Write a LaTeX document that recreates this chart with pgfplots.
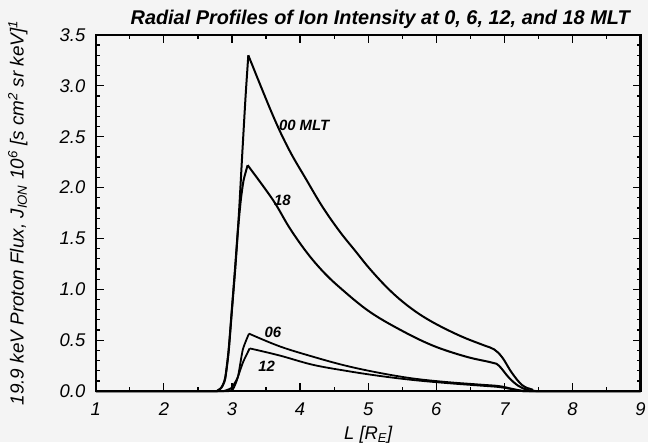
\documentclass[border=0pt]{standalone}
\usepackage{fontspec}
\setmainfont{Liberation Sans}
\usepackage{pgfplots}
\pgfplotsset{compat=1.18}
\definecolor{bg}{HTML}{F4F4F4}
\begin{document}
\begin{tikzpicture}
\fill[bg] (-96bp,-51bp) rectangle (553bp,392bp);
\begin{axis}[
  at={(0,0)}, anchor=south west,
  scale only axis, width=546bp, height=357bp,
  xmin=1, xmax=9, ymin=0, ymax=3.5,
  xtick={1,2,...,9}, ytick={0,0.5,...,3.5},
  minor x tick num=1, minor y tick num=4,
  tick align=inside, tick pos=both,
  major tick length=8bp, minor tick length=4bp,
  every tick/.style={black, line width=1.2bp},
  axis line style={line width=2.2bp},
  /pgf/number format/assume math mode=true,
  ticklabel style={font=\fontsize{18.5}{21}\selectfont\itshape},
  xticklabel style={yshift=-8bp},
  yticklabel style={xshift=-7bp},
  yticklabel={\pgfmathprintnumber[fixed,fixed zerofill,precision=1]{\tick}},
  xticklabel={\pgfmathprintnumber{\tick}},
  every axis title/.style={at={(axis description cs:0.5,1)}, anchor=south, xshift=12bp, yshift=3bp},
  title style={font=\fontsize{20}{23}\selectfont\bfseries\itshape},
  title={Radial Profiles of Ion Intensity at 0, 6, 12, and 18 MLT},
  every axis y label/.style={at={(axis description cs:-0.143,0.5)}, rotate=90, anchor=center, font=\fontsize{19}{22}\selectfont\itshape},
  ylabel={19.9 keV Proton Flux, J\textsubscript{ION} 10\textsuperscript{6} [s cm\textsuperscript{2} sr keV]\textsuperscript{1}},
  every axis x label/.style={at={(axis description cs:0.5,0)}, anchor=center, yshift=-44bp, font=\fontsize{18.5}{21}\selectfont\itshape},
  xlabel={L [R\textsubscript{E}]},
  clip=false,
]
% 00 MLT rise and decay
\addplot[black, line width=2bp, smooth, tension=0.4] coordinates {
(1,0) (2.7,0) (2.8,0.01) (2.85,0.04) (2.9,0.13) (2.95,0.4) (3.0,0.82) (3.05,1.25) (3.1,1.72) (3.15,2.32) (3.2,2.9) (3.24,3.30)};
\addplot[black, line width=2bp, smooth, tension=0.6] coordinates {
(3.24,3.30) (3.60,2.71) (3.84,2.37) (4.09,2.08) (4.33,1.81) (4.58,1.57) (4.82,1.37) (5.0,1.22) (5.23,1.05) (5.45,0.91) (5.70,0.78) (5.94,0.68) (6.20,0.59) (6.43,0.52) (6.70,0.45) (6.85,0.41) (6.97,0.33) (7.11,0.18) (7.26,0.06) (7.41,0.015) (7.55,0) (9,0)};
% 18 MLT
\addplot[black, line width=2bp, smooth, tension=0.4] coordinates {
(1,0) (2.7,0) (2.8,0.01) (2.85,0.04) (2.9,0.12) (2.95,0.38) (3.0,0.8) (3.05,1.22) (3.09,1.6) (3.13,1.88) (3.17,2.07) (3.23,2.22)};
\addplot[black, line width=2bp, smooth, tension=0.6] coordinates {
(3.23,2.22) (3.60,1.88) (3.84,1.61) (4.09,1.37) (4.33,1.18) (4.58,1.02) (5.0,0.79) (5.45,0.61) (5.94,0.45) (6.43,0.34) (6.82,0.28) (6.92,0.25) (7.07,0.13) (7.21,0.05) (7.35,0.01) (7.5,0) (9,0)};
% 06 MLT
\addplot[black, line width=1.8bp, smooth, tension=0.4] coordinates {
(1,0) (2.85,0) (2.92,0.01) (2.99,0.03) (3.04,0.08) (3.09,0.15) (3.16,0.41) (3.25,0.565)};
\addplot[black, line width=1.8bp, smooth, tension=0.6] coordinates {
(3.25,0.565) (3.70,0.44) (4.18,0.34) (4.67,0.25) (5.16,0.18) (5.65,0.125) (6.14,0.09) (6.63,0.065) (6.92,0.05) (7.1,0.025) (7.25,0.005) (7.35,0) (9,0)};
% 12 MLT
\addplot[black, line width=1.8bp, smooth, tension=0.4] coordinates {
(1,0) (2.9,0) (2.96,0.005) (3.01,0.015) (3.06,0.085) (3.16,0.28) (3.26,0.42)};
\addplot[black, line width=1.8bp, smooth, tension=0.6] coordinates {
(3.26,0.42) (3.70,0.35) (4.18,0.26) (4.67,0.20) (5.16,0.15) (5.65,0.11) (6.14,0.08) (6.63,0.055) (6.92,0.04) (7.1,0.02) (7.25,0.004) (7.35,0) (9,0)};
\node[font=\fontsize{15}{18}\selectfont\bfseries\itshape] at (axis cs:4.06,2.61) {00 MLT};
\node[font=\fontsize{15}{18}\selectfont\bfseries\itshape] at (axis cs:3.74,1.87) {18};
\node[font=\fontsize{15}{18}\selectfont\bfseries\itshape] at (axis cs:3.60,0.575) {06};
\node[font=\fontsize{15}{18}\selectfont\bfseries\itshape] at (axis cs:3.51,0.24) {12};
\end{axis}
\end{tikzpicture}
\end{document}
